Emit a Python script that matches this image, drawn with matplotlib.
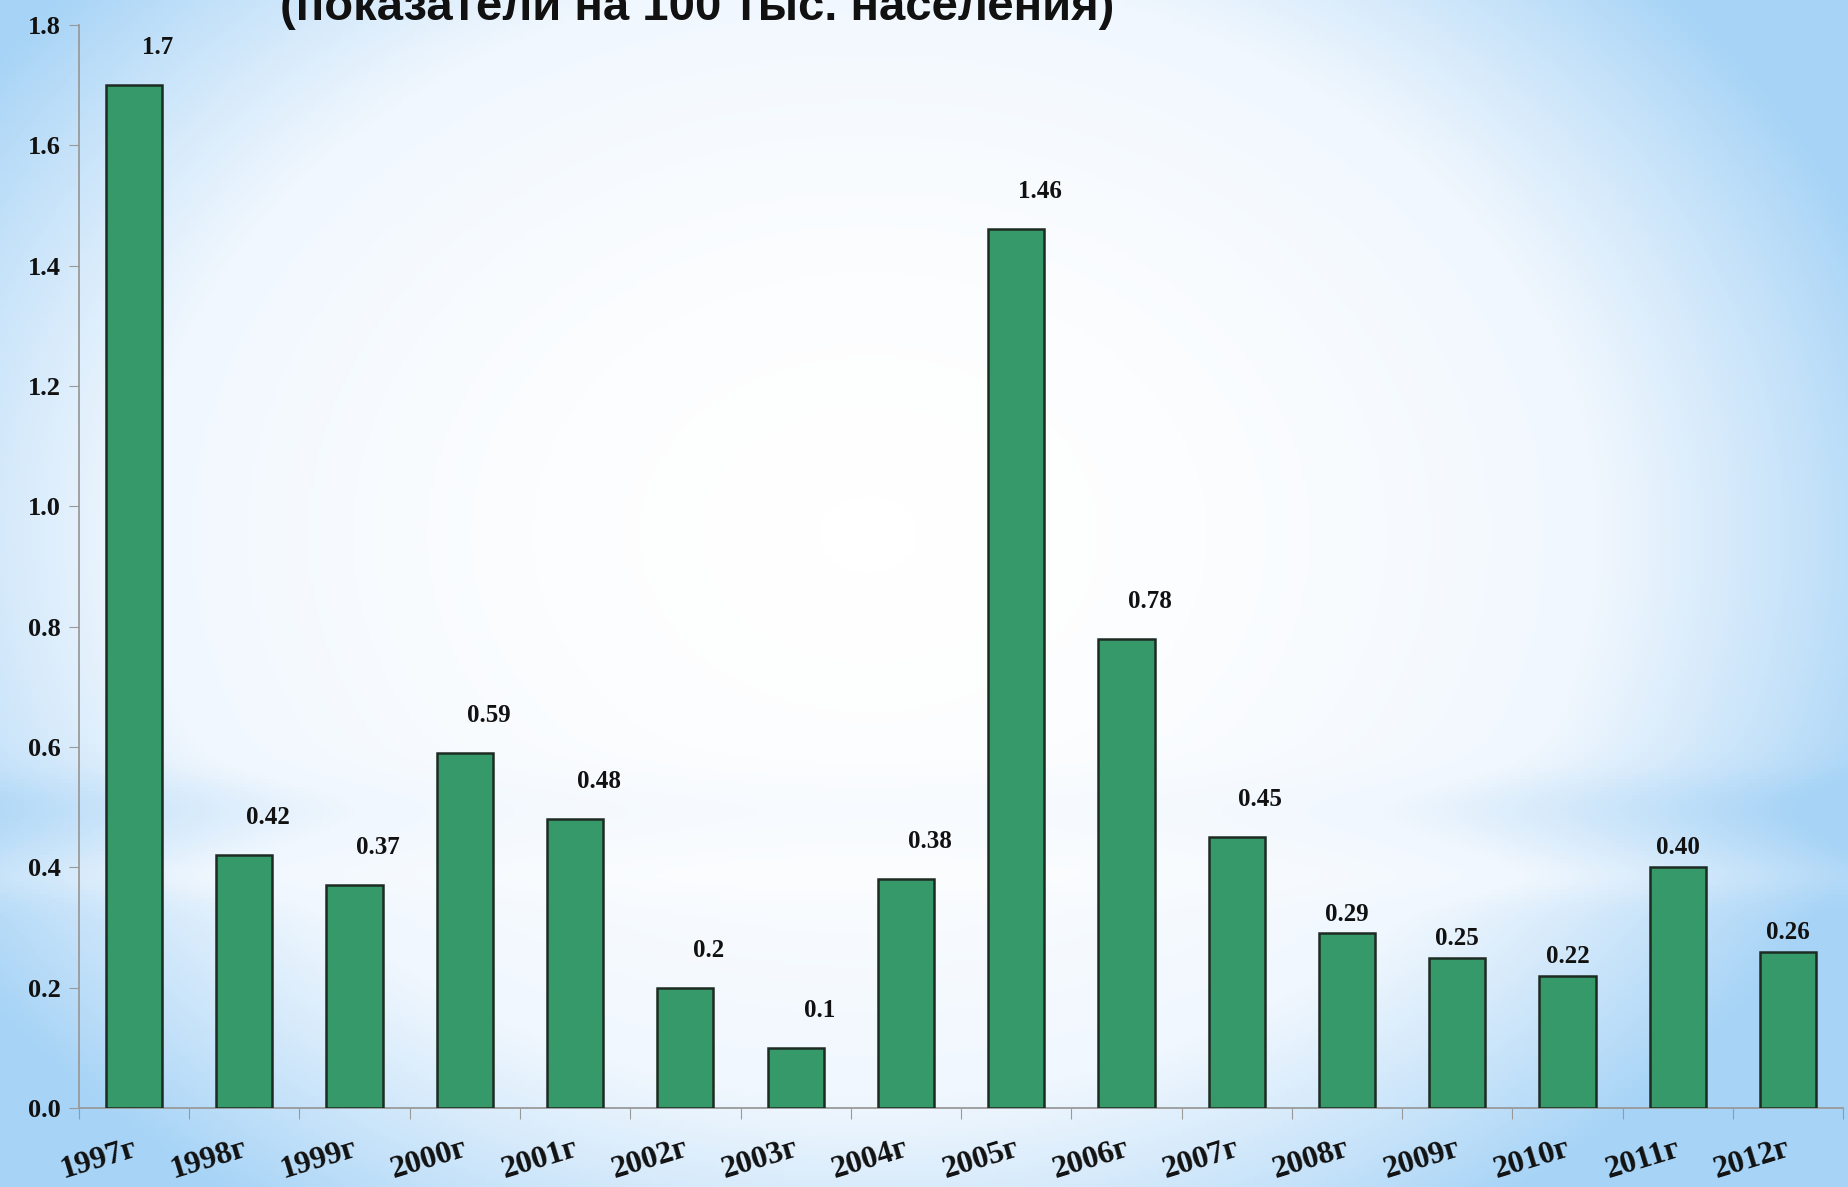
import numpy as np
from matplotlib import pyplot as plt
from matplotlib.colors import LinearSegmentedColormap

years = ["1997г", "1998г", "1999г", "2000г", "2001г", "2002г", "2003г", "2004г",
         "2005г", "2006г", "2007г", "2008г", "2009г", "2010г", "2011г", "2012г"]
values = [1.7, 0.42, 0.37, 0.59, 0.48, 0.2, 0.1, 0.38,
          1.46, 0.78, 0.45, 0.29, 0.25, 0.22, 0.40, 0.26]
value_labels = ["1.7", "0.42", "0.37", "0.59", "0.48", "0.2", "0.1", "0.38",
                "1.46", "0.78", "0.45", "0.29", "0.25", "0.22", "0.40", "0.26"]
title = "(показатели на 100 тыс. населения)"

serif = ["Liberation Serif", "DejaVu Serif"]

fig = plt.figure(figsize=(18.49, 11.87), dpi=100)

# background: radial gradient, white centre, light blue edges
bg = fig.add_axes([0, 0, 1, 1])
bg.set_axis_off()
h, w = 300, 460
yy, xx = np.mgrid[0:h, 0:w]
xn = xx / (w - 1)
yn = yy / (h - 1)
r = np.sqrt(((xn - 0.47) / 0.58) ** 2 + ((yn - 0.45) / 0.7) ** 2)
t = np.clip(r, 0, 1) ** 1.8
band = 0.12 * np.exp(-((yn - 0.68) / 0.03) ** 2) - 0.08 * np.exp(-((yn - 0.74) / 0.02) ** 2)
t = np.clip(t + band, 0, 1)
cmap = LinearSegmentedColormap.from_list("bg", ["#ffffff", "#f0f7fe", "#a6d3f6"])
bg.imshow(t, cmap=cmap, aspect="auto", extent=[0, 1, 0, 1], origin="upper", vmin=0, vmax=1)
bg.set_xlim(0, 1)
bg.set_ylim(0, 1)

ax = fig.add_axes([0.0427, 0.0666, 0.9541, 0.9124])
ax.patch.set_alpha(0)
x = np.arange(len(years))
ax.bar(x, values, width=0.51, color="#35996a", edgecolor="#1d2b22", linewidth=1.8, zorder=3)

for i, (v, lab) in enumerate(zip(values, value_labels)):
    if i < 11:
        dx, dy = 17, 27
    else:
        dx, dy = 0, 14
    ax.annotate(lab, (x[i], v), xytext=(dx, dy), textcoords="offset points",
                ha="center", va="center", fontsize=18, fontweight="bold",
                family=serif, color="#111111")

ax.set_xlim(-0.5, len(years) - 0.5)
ax.set_ylim(0, 1.8)
ax.set_yticks(np.arange(0, 1.81, 0.2))
ax.set_yticklabels(["%.1f" % v for v in np.arange(0, 1.81, 0.2)], family=serif,
                   fontsize=19, fontweight="bold", color="#111111")
ax.set_xticks(np.arange(-0.5, len(years), 1.0))
ax.set_xticklabels([])
ax.set_xticks(x - 0.02, minor=True)
ax.set_xticklabels(years, minor=True, rotation=17, family=serif, fontsize=23,
                   fontweight="bold", color="#111111", ha="right", rotation_mode="anchor")
ax.tick_params(axis="x", which="minor", length=0, pad=19)
ax.tick_params(axis="x", which="major", length=8, color="#999999", direction="out")
ax.tick_params(axis="y", length=7, color="#999999", direction="out", pad=6)
for s in ["top", "right"]:
    ax.spines[s].set_visible(False)
for s in ["left", "bottom"]:
    ax.spines[s].set_color("#9a9a9a")
    ax.spines[s].set_linewidth(1.3)

fig.text(0.377, 1 - 20 / 1187, title, ha="center", va="baseline", fontsize=34,
         fontweight="bold", family=["Liberation Sans", "DejaVu Sans"], color="#111111")

fig.savefig("out.png", dpi=100)
